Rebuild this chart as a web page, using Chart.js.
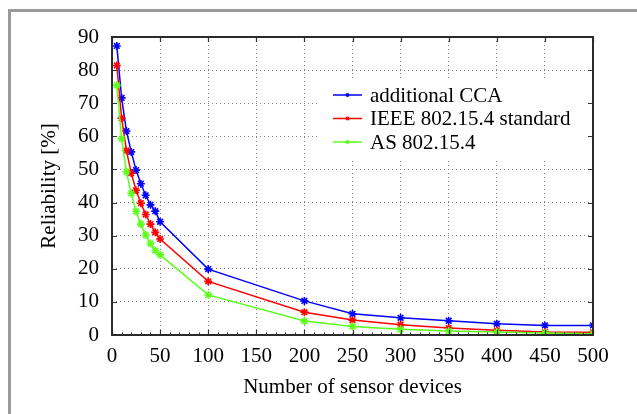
<!DOCTYPE html>
<html>
<head>
<meta charset="utf-8">
<script src="https://cdn.jsdelivr.net/npm/chart.js@4.4.1/dist/chart.umd.min.js"></script>
<style>
  html, body { margin: 0; padding: 0; background: #fff; }
  #wrap { position: relative; width: 637px; height: 414px; overflow: hidden; }
  #frame { position: absolute; left: 8px; top: 9px; width: 700px; height: 500px;
           border-left: 3px solid #9a9a9a; border-top: 3px solid #9a9a9a; }
  canvas { position: absolute; left: 0; top: 0; }
</style>
</head>
<body>
<div id="wrap">
  <div id="frame"></div>
  <canvas id="chart" width="637" height="414"></canvas>
</div>
<script>
/* ── Data ─────────────────────────────────────────────── */
const devices = [5, 10, 15, 20, 25, 30, 35, 40, 45, 50, 100, 200, 250, 300, 350, 400, 450, 500];
const additionalCCA = [87.3, 71.6, 61.6, 55.3, 49.8, 45.7, 42.2, 39.3, 37.4, 34.2, 19.9, 10.3, 6.4, 5.2, 4.3, 3.4, 2.9, 2.9];
const ieeeStandard  = [81.4, 65.5, 55.7, 48.9, 43.7, 39.8, 36.4, 33.5, 31.0, 29.0, 16.2, 6.9, 4.5, 3.1, 2.1, 1.4, 0.9, 0.8];
const as802154      = [75.4, 59.3, 49.3, 42.8, 37.3, 33.5, 30.2, 27.6, 25.5, 24.2, 12.1, 4.2, 2.6, 1.7, 1.2, 0.9, 0.6, 0.4];

const seriesLabels = ['additional CCA', 'IEEE 802.15.4 standard', 'AS 802.15.4'];
const seriesColors = ['#0000ff', '#ff0000', '#5cff1a'];

const xTicks = [0, 50, 100, 150, 200, 250, 300, 350, 400, 450, 500];
const yTicks = [0, 10, 20, 30, 40, 50, 60, 70, 80, 90];

const FONT = '"Liberation Serif", "Times New Roman", serif';
const FSIZE = 21;

/* ── Frame, ticks and legend ─────────────────────────── */
const frameLegend = {
  id: 'frameLegend',
  beforeDatasetsDraw(chart) {
    const { ctx, chartArea: a } = chart;
    // white legend box hides the grid behind it
    ctx.save();
    ctx.fillStyle = '#fff';
    ctx.fillRect(a.left + 206, a.top + 41, a.right - a.left - 209, 80);
    ctx.restore();
  },
  afterDatasetsDraw(chart) {
    const { ctx, chartArea: a, scales: { x, y } } = chart;
    ctx.save();
    ctx.strokeStyle = '#333';
    ctx.lineWidth = 1.2;
    ctx.beginPath();
    xTicks.forEach(v => {
      const px = Math.round(x.getPixelForValue(v)) + 0.5;
      ctx.moveTo(px, a.bottom); ctx.lineTo(px, a.bottom - 5);
      ctx.moveTo(px, a.top);    ctx.lineTo(px, a.top + 5);
    });
    yTicks.forEach(v => {
      const py = Math.round(y.getPixelForValue(v)) + 0.5;
      ctx.moveTo(a.left, py);  ctx.lineTo(a.left + 5, py);
      ctx.moveTo(a.right, py); ctx.lineTo(a.right - 5, py);
    });
    ctx.stroke();
    // minor ticks on the bottom axis
    ctx.lineWidth = 1;
    ctx.beginPath();
    for (let v = 10; v < 500; v += 10) {
      const px = Math.round(x.getPixelForValue(v)) + 0.5;
      ctx.moveTo(px, a.bottom); ctx.lineTo(px, a.bottom - 2.5);
    }
    ctx.stroke();
    // plot box
    ctx.lineWidth = 2;
    ctx.strokeStyle = '#2b2b2b';
    ctx.strokeRect(a.left, a.top, a.right - a.left, a.bottom - a.top);

    // legend entries
    ctx.font = `${FSIZE}px ${FONT}`;
    ctx.textBaseline = 'middle';
    ctx.textAlign = 'left';
    chart.data.datasets.forEach((ds, i) => {
      const ly = a.top + 58 + i * 23.5;
      ctx.strokeStyle = ds.borderColor;
      ctx.lineWidth = 1.5;
      ctx.beginPath();
      ctx.moveTo(a.left + 221, ly); ctx.lineTo(a.left + 250, ly);
      ctx.stroke();
      ctx.fillStyle = ds.borderColor;
      ctx.beginPath();
      ctx.arc(a.left + 235.5, ly, 2, 0, Math.PI * 2);
      ctx.fill();
      ctx.fillStyle = '#000';
      ctx.fillText(ds.label, a.left + 258, ly + 1);
    });
    ctx.restore();
  },
};

/* ── Chart ───────────────────────────────────────────── */
const seriesValues = [additionalCCA, ieeeStandard, as802154];

new Chart(document.getElementById('chart').getContext('2d'), {
  type: 'line',
  data: {
    datasets: seriesValues.map((vals, i) => ({
      label: seriesLabels[i],
      data: devices.map((d, k) => ({ x: d, y: vals[k] })),
      borderColor: seriesColors[i],
      backgroundColor: seriesColors[i],
      borderWidth: 1.5,
      pointStyle: 'star',
      pointRadius: 4,
      pointBorderWidth: 1.6,
      tension: 0,
      fill: false,
      order: 3 - i,
    })),
  },
  options: {
    responsive: false,
    animation: false,
    layout: { padding: { top: 37, right: 44, left: 0, bottom: 0 } },
    plugins: { legend: { display: false }, tooltip: { enabled: false } },
    scales: {
      x: {
        type: 'linear',
        min: 0, max: 500,
        afterFit: s => { s.height = 79; },
        afterBuildTicks: s => { s.ticks = xTicks.map(v => ({ value: v })); },
        grid: { color: '#808080', lineWidth: 1, drawTicks: false },
        border: { display: false, dash: [1, 3] },
        ticks: { color: '#000', font: { family: FONT, size: FSIZE }, padding: 9, maxRotation: 0 },
        title: {
          display: true, text: 'Number of sensor devices', color: '#000',
          font: { family: FONT, size: FSIZE }, padding: { top: 0, bottom: 14 },
        },
      },
      y: {
        type: 'linear',
        min: 0, max: 90,
        afterFit: s => { s.width = 112; },
        afterBuildTicks: s => { s.ticks = yTicks.map(v => ({ value: v })); },
        grid: { color: '#808080', lineWidth: 1, drawTicks: false },
        border: { display: false, dash: [1, 3] },
        ticks: { color: '#000', font: { family: FONT, size: FSIZE }, padding: 13 },
        title: {
          display: true, text: 'Reliability [%]', color: '#000',
          font: { family: FONT, size: FSIZE }, padding: { top: 37, bottom: 0 },
        },
      },
    },
  },
  plugins: [frameLegend],
});
</script>
</body>
</html>
